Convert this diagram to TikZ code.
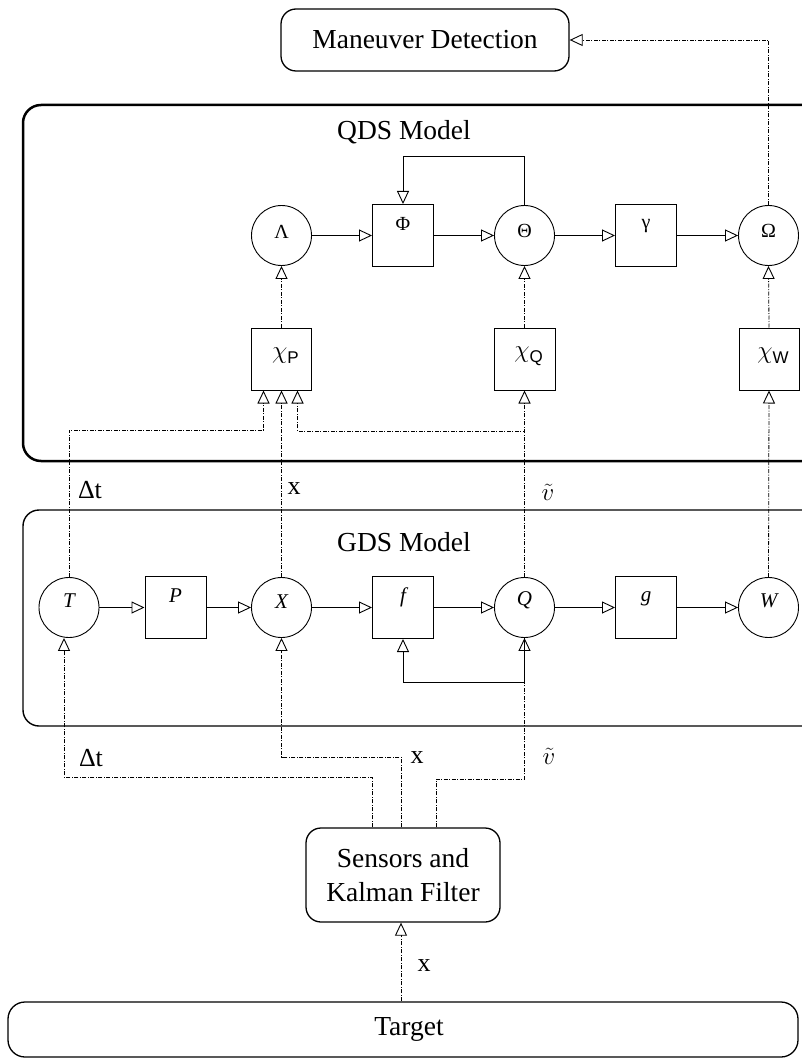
\documentclass[tikz,border=0pt]{standalone}
\usepackage{fontspec}
\setmainfont{Liberation Serif}
\setsansfont{Liberation Sans}
\usetikzlibrary{arrows.meta}
\begin{document}
\begin{tikzpicture}[x=1pt,y=-1pt,
  big/.style={font=\fontsize{27.5}{34}\selectfont},
  lbl/.style={font=\fontsize{26}{30}\selectfont, inner sep=0pt},
  rbox/.style={draw, rectangle, rounded corners=15pt, line width=1.3pt, inner sep=0pt},
  circ/.style={draw, circle, line width=0.9pt, minimum size=60pt, inner sep=0pt},
  blk/.style={draw, rectangle, line width=1pt, minimum width=61pt, minimum height=62pt, inner sep=0pt},
  gk/.style={font=\fontsize{20}{20}\selectfont, inner sep=0pt},
  it/.style={font=\fontsize{21}{21}\selectfont\itshape, inner sep=0pt},
  tipo/.style={-{Triangle[open,length=13pt,width=12pt,line width=0.9pt]}},
  sarr/.style={line width=0.9pt, tipo},
  darr/.style={line width=0.8pt, dash pattern=on 4pt off 1.5pt on 1pt off 1.5pt, tipo},
]
\path[use as bounding box] (0,0) rectangle (802,1059);

% outer boxes
\node[rbox, minimum width=288pt, minimum height=62pt, big] (mdet) at (425,40) {Maneuver Detection};
\node[draw, rectangle, rounded corners=18pt, line width=2.5pt, minimum width=807pt, minimum height=356pt] (qds) at (426.5,283) {};
\node[big, inner sep=0pt] (qdst) at (404,132) {QDS Model};
\node[draw, rectangle, rounded corners=16pt, line width=1.4pt, minimum width=807pt, minimum height=216pt] (gds) at (426.5,618) {};
\node[big, inner sep=0pt] (gdst) at (404,542) {GDS Model};
\node[rbox, minimum width=194pt, minimum height=94pt, big, align=center] (sens) at (403,875) {Sensors and\\Kalman Filter};
\node[rbox, rounded corners=17pt, minimum width=790pt, minimum height=55pt, big] (tgt) at (403,1029.5) {\hspace*{12pt}Target};

% QDS row
\node[circ, label={[gk, yshift=4pt]center:Λ}] (Lam) at (281.5,235.5) {};
\node[blk, label={[gk, yshift=12pt]center:Φ}] (Phi) at (403,235.5) {};
\node[circ, label={[gk, yshift=5pt]center:Θ}] (The) at (524.5,235.5) {};
\node[blk, label={[gk, yshift=9pt]center:γ}] (gam) at (646,235.5) {};
\node[circ, label={[gk, yshift=5pt]center:Ω}] (Ome) at (768.5,235.5) {};

\newcommand{\chisub}[1]{{\fontsize{25}{25}\selectfont$\chi$}\raisebox{-5pt}{\sffamily\fontsize{17}{17}\selectfont #1}}
\node[blk, minimum width=60pt, label={[inner sep=0pt, xshift=4pt, yshift=3pt]center:\chisub{P}}] (chiP) at (281.5,359) {};
\node[blk, label={[inner sep=0pt, xshift=4pt, yshift=3pt]center:\chisub{Q}}] (chiQ) at (524.5,359) {};
\node[blk, minimum width=60pt, label={[inner sep=0pt, xshift=4pt, yshift=3pt]center:\chisub{W}}] (chiW) at (769,359) {};

% GDS row
\node[circ, label={[it, yshift=7pt]center:T}] (T) at (69,607.5) {};
\node[blk, label={[it, yshift=12pt]center:P}] (P) at (175.5,607.5) {};
\node[circ, label={[it, yshift=6pt]center:X}] (X) at (281.5,607.5) {};
\node[blk, label={[it, yshift=10pt]center:f}] (f) at (403,607.5) {};
\node[circ, label={[it, yshift=7pt]center:Q}] (Q) at (524.5,607.5) {};
\node[blk, label={[it, yshift=9pt]center:g}] (g) at (646,607.5) {};
\node[circ, label={[it, yshift=7pt]center:W}] (W) at (768.5,607.5) {};

% solid connectors
\draw[sarr] (Lam) -- (Phi);
\draw[sarr] (Phi) -- (The);
\draw[sarr] (The) -- (gam);
\draw[sarr] (gam) -- (Ome);
\draw[sarr] (T) -- (P);
\draw[sarr] (P) -- (X);
\draw[sarr] (X) -- (f);
\draw[sarr] (f) -- (Q);
\draw[sarr] (Q) -- (g);
\draw[sarr] (g) -- (W);
\coordinate (fbtop) at (0,156);
\draw[sarr] (The.north) |- (Phi.north |- fbtop) -- (Phi.north);
\coordinate (fbbot) at (0,682);
\draw[sarr] (Q.south) |- (f.south |- fbbot) -- (f.south);

% dash-dot connectors (QDS)
\draw[darr] (chiP.north) -- (Lam.south);
\draw[darr] (chiQ.north) -- (The.south);
\draw[darr] (chiW.north) -- (Ome.south);
\draw[darr] (Ome.north) |- (mdet.east);
\coordinate (dtA) at (0,430);
\coordinate (vA) at (0,431);
\coordinate (pin1) at ([xshift=-18pt]chiP.south);
\coordinate (pin3) at ([xshift=16pt]chiP.south);
\draw[darr] (T.north) -- (T.north |- dtA) -| (pin1);
\draw[darr] (X.north) -- (chiP.south);
\draw[darr] (Q.north) -- (Q.north |- vA) -| (pin3);
\draw[darr] (Q.north) -- (chiQ.south);
\draw[darr] (W.north) -- (chiW.south);

% dash-dot connectors (sensors)
\coordinate (s1) at ([xshift=-31pt]sens.north);
\coordinate (s2) at ([xshift=-2pt]sens.north);
\coordinate (s3) at ([xshift=33pt]sens.north);
\coordinate (tin) at ([xshift=-5pt]T.south);
\coordinate (yA) at (0,777);
\coordinate (yB) at (0,757);
\coordinate (yC) at (0,779);
\draw[darr] (s1) -- (s1 |- yA) -| (tin);
\draw[darr] (s2) -- (s2 |- yB) -| (X.south);
\draw[darr] (s3) -- (s3 |- yC) -| (Q.south);
\coordinate (sin) at ([xshift=-2pt]sens.south);
\draw[darr] (tgt.north -| sin) -- (sin);

% labels
\node[lbl] (l1) at (90,490) {Δt};
\node[lbl] (l2) at (294,489) {x};
\node[lbl] (l3) at (548,492) {$\tilde{v}$};
\node[lbl] (l4) at (91,758) {Δt};
\node[lbl] (l5) at (417,758) {x};
\node[lbl] (l6) at (549,756) {$\tilde{v}$};
\node[lbl] (l7) at (424,966) {x};
\end{tikzpicture}
\end{document}
